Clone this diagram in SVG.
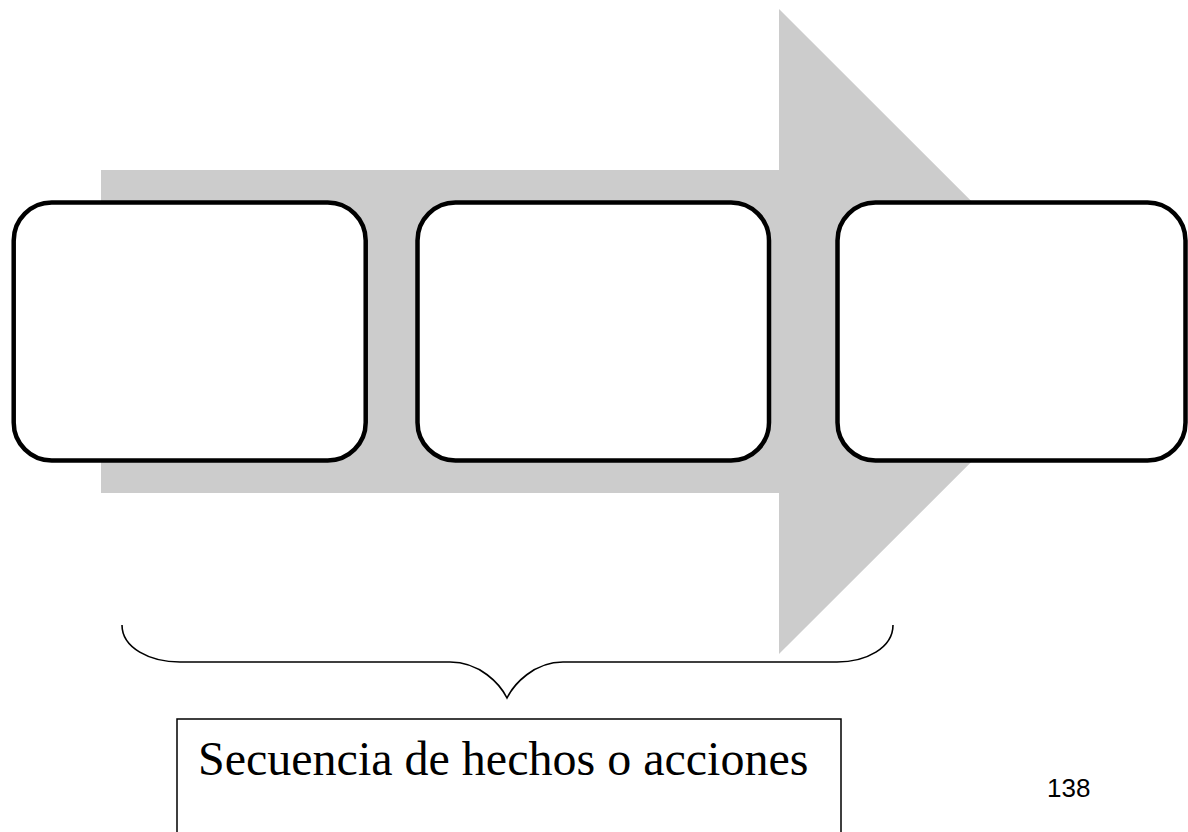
<svg xmlns="http://www.w3.org/2000/svg" width="1188" height="832" viewBox="0 0 1188 832">
<style>
.box{fill:#ffffff;stroke:#000000;stroke-width:4.5}
.brace{fill:none;stroke:#000000;stroke-width:1.6}
.label{font-family:"Liberation Serif","Times New Roman",serif;font-size:48px;fill:#000000}
.page{font-family:"Liberation Sans",Arial,sans-serif;font-size:26px;fill:#000000}
</style>
<rect x="0" y="0" width="1188" height="832" fill="#ffffff"/>
<g id="arrow">
<polygon points="101,170 779,170 779,9 1102,331.5 779,654 779,493 101,493" fill="#cccccc"/>
</g>
<g id="box1"><rect class="box" x="13.7" y="202.5" width="352" height="258" rx="38" ry="38"/></g>
<g id="box2"><rect class="box" x="417.5" y="202.5" width="351.5" height="258" rx="38" ry="38"/></g>
<g id="box3"><rect class="box" x="837.5" y="202.5" width="348" height="258" rx="38" ry="38"/></g>
<g id="connectors">
<path class="brace" d="M122,625 C122,648 150,662 180,662 L450,662 C480,662 500,684 507,698 C514,684 534,662 563,662 L837,662 C866,662 893,648 893,625"/>
</g>
<g id="label">
<path d="M177,832 L177,719 L841,719 L841,832" fill="#ffffff" stroke="#000000" stroke-width="1.5"/>
<text class="label" x="198" y="775">Secuencia de hechos o acciones</text>
</g>
<g id="pagenum">
<text class="page" x="1047" y="797">138</text>
</g>
</svg>
